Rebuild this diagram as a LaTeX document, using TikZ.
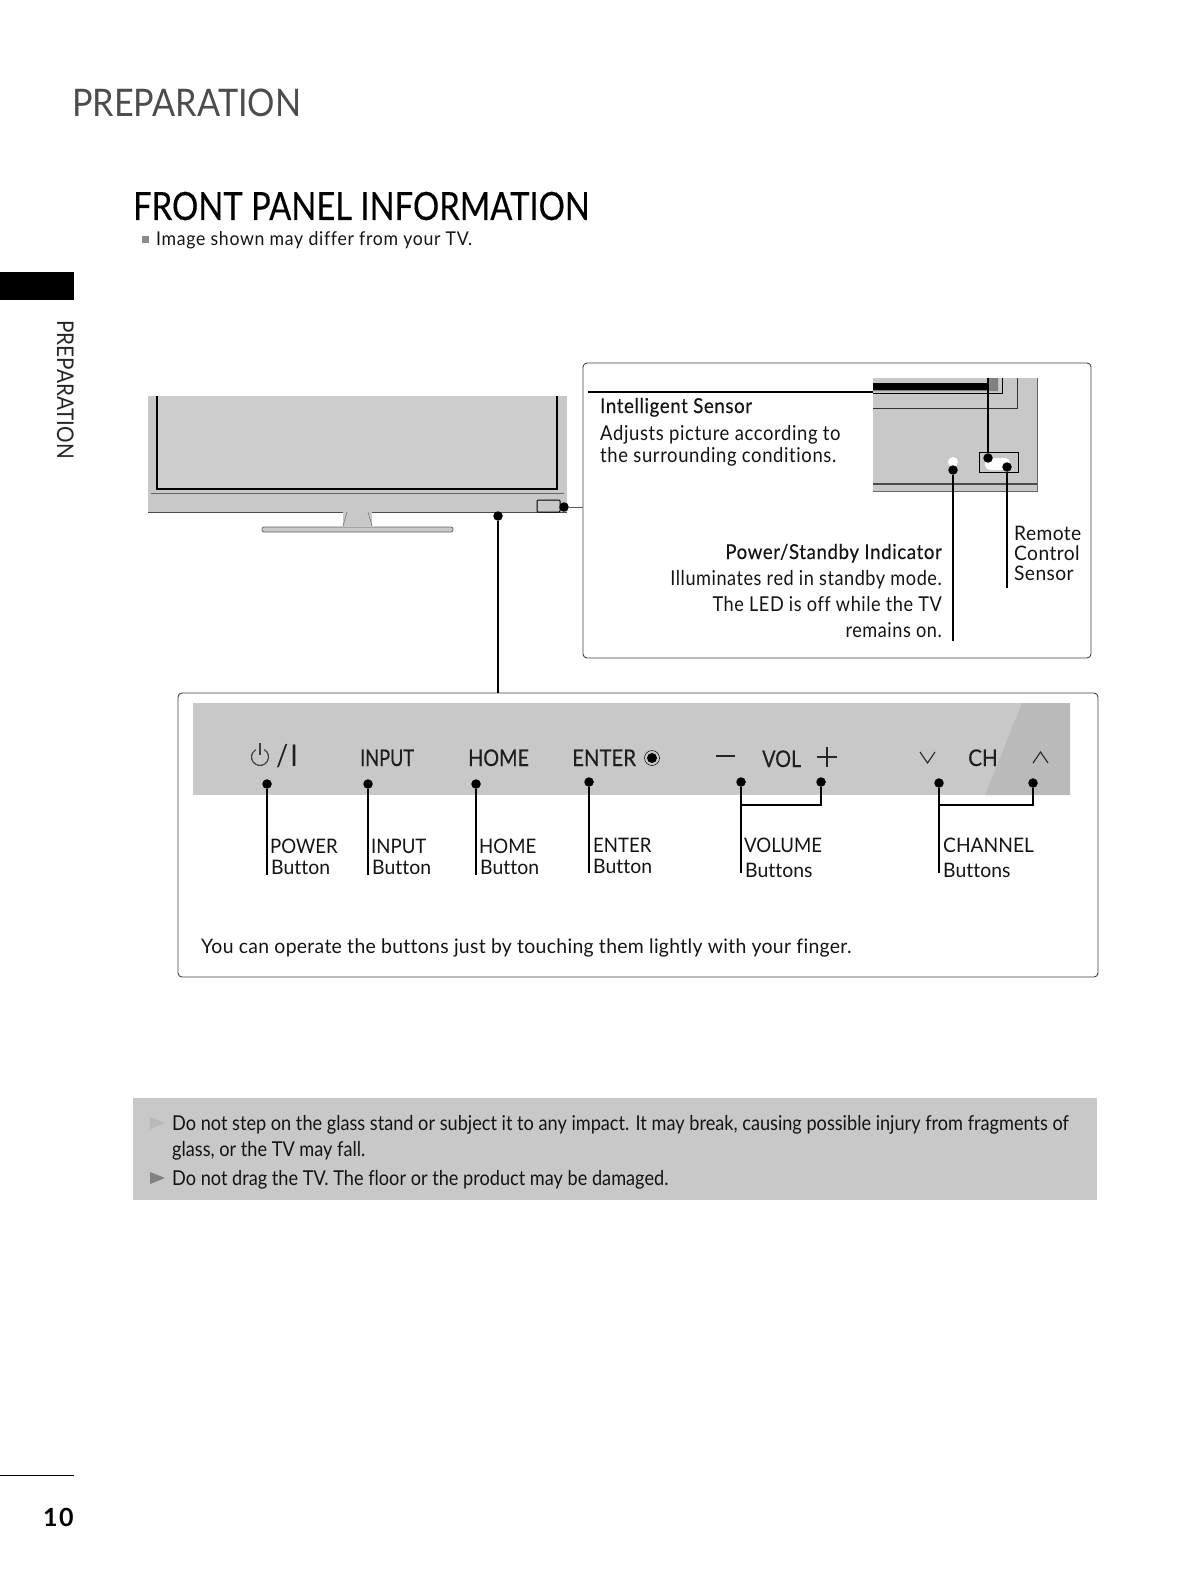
\documentclass[tikz,border=0pt]{standalone}
\usepackage{fontspec}
\setmainfont{Lato}[Ligatures=NoCommon]
\usetikzlibrary{positioning}
\definecolor{rHalf}{RGB}{200,200,200}
\definecolor{rPatch}{RGB}{186,186,186}
\definecolor{rScreen}{RGB}{206,206,206}
\colorlet{cInk}{black!92}
\newcommand{\tvfont}[3]{\fontsize{#1}{#1}\selectfont\addfontfeature{FakeStretch=#2,LetterSpace=#3}}
\newcommand{\tvbold}[3]{\fontsize{#1}{#1}\selectfont\addfontfeature{FakeStretch=#2,LetterSpace=#3,FakeBold=0.3}}
\tikzset{
	lbl/.style={inner sep=0pt,anchor=base west,text=cInk,font=\tvfont{20}{0.93}{0}},
	lbllow/.style={lbl,font=\tvfont{20}{0.97}{0}},
	sub/.style={lbl,font=\tvfont{20.5}{0.9}{3}},
	subh/.style={lbl,font=\tvbold{20.5}{0.91}{3}},
	rsub/.style={lbl,anchor=base east,font=\tvfont{20.5}{0.885}{2.6}},
	rsubh/.style={subh,anchor=base east},
	ctrl/.style={lbl,font=\tvfont{20}{0.96}{2}},
	key/.style={inner sep=0pt,anchor=base west,text=black!88,font=\tvbold{23}{0.86}{0}},
	note/.style={lbl,font=\tvfont{20.5}{0.885}{0}},
	dot/.style={circle,fill=black,inner sep=0pt,minimum size=9.5pt},
	lead/.style={draw=black,line width=1.2pt},
	frame/.style={draw=black!75,line width=0.9pt,rounded corners=4pt}
}
\begin{document}
\begin{tikzpicture}[x=1pt,y=-1pt]
	\useasboundingbox (0,0) rectangle (1190,1586);
	% page furniture
	\node[inner sep=0pt,anchor=base west,text=black!70,font=\tvfont{38}{0.9}{0}] (head) at (72,117) {PREPARATION};
	\node[inner sep=0pt,anchor=base west,text=black,font=\tvbold{39}{0.84}{0}] (title) at (133,220) {FRONT PANEL INFORMATION};
	\fill[black!45] (142,236) rectangle (149,243);
	\node[lbl,font=\tvfont{19}{0.93}{3.6}] (hint) at (156,246) {Image shown may differ from your TV.};
	\fill[black] (0,272) rectangle (74,300);
	\node[inner sep=0pt,rotate=-90,anchor=base west,text=black!85,font=\tvfont{23}{0.9}{0}] (side) at (57,320) {PREPARATION};
	\draw[black,line width=0.8pt] (0,1475) -- (74,1475);
	\node[inner sep=0pt,anchor=base west,font=\bfseries\tvfont{25}{1}{6}] (page) at (43,1526) {10};
	% tv
	\fill[rHalf] (148,396) rectangle (567,512);
	\fill[rScreen] (157,396) rectangle (557,489);
	\draw[black,line width=1.3pt] (157,396) -- (157,489) -- (557,489) -- (557,396);
	\draw[black!60,line width=0.7pt] (151,493) -- (564,493);
	\draw[black!70,line width=0.8pt] (148,512) -- (567,512);
	\fill[rHalf] (343,512) rectangle (372,526);
	\draw[black!55,line width=0.6pt] (347,512) -- (343,526) (368,512) -- (372,526);
	\draw[black!60,fill=rHalf,line width=0.7pt,rounded corners=2pt] (262,527) rectangle (453,532);
	\draw[black,fill=rHalf,line width=1pt,rounded corners=1pt] (537,500) rectangle (560,512);
	\node[dot] (tvside) at (564,507) {};
	\node[dot] (tvfront) at (498,516) {};
	% sensor frame
	\draw[frame,fill=white] (583,363) rectangle (1091,658);
	\coordinate (sidein) at (583,507);
	\draw[black!65,line width=0.8pt] (tvside) -- (sidein);
	\fill[rHalf] (873,378) rectangle (1037,491);
	\draw[black,line width=1.2pt] (588,392) -- (873,392);
	\fill[black] (873,383) rectangle (988,390);
	\fill[black!50] (988,378) -- (998,378) -- (998,391) -- (873,391) -- (873,390) -- (988,390) -- cycle;
	\draw[black,line width=0.8pt] (873,393) -- (1002,393) -- (1002,378);
	\draw[black!80,line width=0.7pt] (873,408) -- (1017,408) -- (1017,378);
	\draw[black!70,line width=1.2pt] (873,484) -- (1037,484);
	\draw[black!60,line width=0.8pt] (873,491) -- (1037,491) -- (1037,378);
	\draw[black,line width=0.9pt,fill=rHalf] (979,452) rectangle (1018,472);
	\fill[white,rounded corners=5pt] (985,458) rectangle (1010,470);
	\node[circle,fill=white,inner sep=0pt,minimum size=10pt] (led) at (953,462) {};
	\node[dot] (lookdot) at (988,458) {};
	\node[dot] (ctrldot) at (1007,467) {};
	\node[dot] (leddot) at (953,470) {};
	\coordinate (lookup) at (988,378);
	\coordinate (ctrlend) at (1007,588);
	\coordinate (ledend) at (953,641);
	\draw[lead] (lookdot) -- (lookup);
	\draw[lead] (ctrldot) -- (ctrlend);
	\draw[lead] (leddot) -- (ledend);
	\node[subh] (sensorh) at (600,413) {Intelligent Sensor};
	\node[sub] (sensora) at (600,440) {Adjusts picture according to};
	\node[sub] (sensorb) at (600,462) {the surrounding conditions.};
	\node[rsubh] (ledh) at (942,559) {Power/Standby Indicator};
	\node[rsub] (leda) at (942,585) {Illuminates red in standby mode.};
	\node[rsub] (ledb) at (942,611) {The LED is off while the TV};
	\node[rsub] (ledc) at (942,637) {remains on.};
	\node[ctrl] (ctrla) at (1014,540) {Remote};
	\node[ctrl] (ctrlb) at (1014,560) {Control};
	\node[ctrl] (ctrlc) at (1014,580) {Sensor};
	% button panel
	\draw[frame,fill=white] (178,693) rectangle (1098,977);
	\coordinate (panelin) at (498,693);
	\draw[lead] (tvfront) -- (panelin);
	\fill[rHalf] (193,703) rectangle (1070,795);
	\fill[rPatch] (1022,703) -- (1070,703) -- (1070,795) -- (985,795) -- cycle;
	\draw[black!75,line width=1.2pt] (264.25,749.6) arc[start angle=-60,end angle=240,radius=8.5];
	\draw[black!75,line width=1.2pt] (260,743) -- (260,755);
	\node[key,font=\tvfont{30}{0.9}{0}] (powkey) at (276,766) {/\kern2ptI};
	\node[key,font=\tvbold{23}{0.79}{0}] (inkey) at (360,766) {INPUT};
	\node[key] (homekey) at (468,766) {HOME};
	\node[key,font=\tvbold{23}{0.885}{0}] (entkey) at (572,766) {ENTER};
	\draw[black,line width=0.5pt] (652,758) circle[radius=7.5];
	\fill[black] (652,758) circle[radius=5];
	\draw[black!85,line width=2pt] (716,756) -- (735,756);
	\node[key] (volkey) at (762,767) {VOL};
	\draw[black!85,line width=2pt] (817,757) -- (837,757) (827,747) -- (827,767);
	\draw[black!85,line width=1.1pt] (920,752) -- (927.5,763) -- (935,752);
	\node[key,font=\tvbold{23}{0.9}{0}] (chkey) at (968,766) {CH};
	\draw[black!85,line width=1.1pt] (1033,763) -- (1040.5,752) -- (1048,763);
	\node[dot] (powdot) at (267,784) {};
	\node[dot] (indot) at (368,784) {};
	\node[dot] (homedot) at (476,784) {};
	\node[dot] (entdot) at (589,782) {};
	\node[dot] (voldn) at (741,782) {};
	\node[dot] (volup) at (821,782) {};
	\node[dot] (chdn) at (939,783) {};
	\node[dot] (chup) at (1033,783) {};
	\coordinate (powend) at (267,875);
	\coordinate (inend) at (368,875);
	\coordinate (homeend) at (476,875);
	\coordinate (entend) at (589,873);
	\coordinate (volend) at (741,873);
	\coordinate (chend) at (939,873);
	\draw[lead] (powdot) -- (powend);
	\draw[lead] (indot) -- (inend);
	\draw[lead] (homedot) -- (homeend);
	\draw[lead] (entdot) -- (entend);
	\draw[lead] (voldn) -- (volend);
	\draw[lead] (chdn) -- (chend);
	\draw[lead] (volup) |- (741,805);
	\draw[lead] (chup) |- (939,805);
	\node[lbl] (powa) at (270,853) {POWER};
	\node[lbllow] (powb) at (271,874) {Button};
	\node[lbl] (ina) at (371,853) {INPUT};
	\node[lbllow] (inb) at (372,874) {Button};
	\node[lbl] (homea) at (479,853) {HOME};
	\node[lbllow] (homeb) at (480,874) {Button};
	\node[lbl] (enta) at (593,852) {ENTER};
	\node[lbllow] (entb) at (593,873) {Button};
	\node[lbl] (vola) at (744,852) {VOLUME};
	\node[lbllow] (volb) at (745,877) {Buttons};
	\node[lbl,font=\tvfont{20}{0.96}{0}] (cha) at (943,852) {CHANNEL};
	\node[lbllow] (chb) at (943,877) {Buttons};
	\node[lbl,font=\tvfont{20}{0.97}{1.5}] (touch) at (201,953) {You can operate the buttons just by touching them lightly with your finger.};
	% caution strip
	\fill[rHalf] (133,1098) rectangle (1097,1200);
	\fill[black!28] (150,1117) -- (165,1123) -- (150,1129) -- cycle;
	\fill[black!50] (150,1172) -- (165,1178) -- (150,1184) -- cycle;
	\node[note] (warna) at (172,1130) {Do not step on the glass stand or subject it to any impact. It may break, causing possible injury from fragments of};
	\node[note] (warnb) at (172,1156) {glass, or the TV may fall.};
	\node[note] (warnc) at (172,1185) {Do not drag the TV. The floor or the product may be damaged.};
\end{tikzpicture}
\end{document}
